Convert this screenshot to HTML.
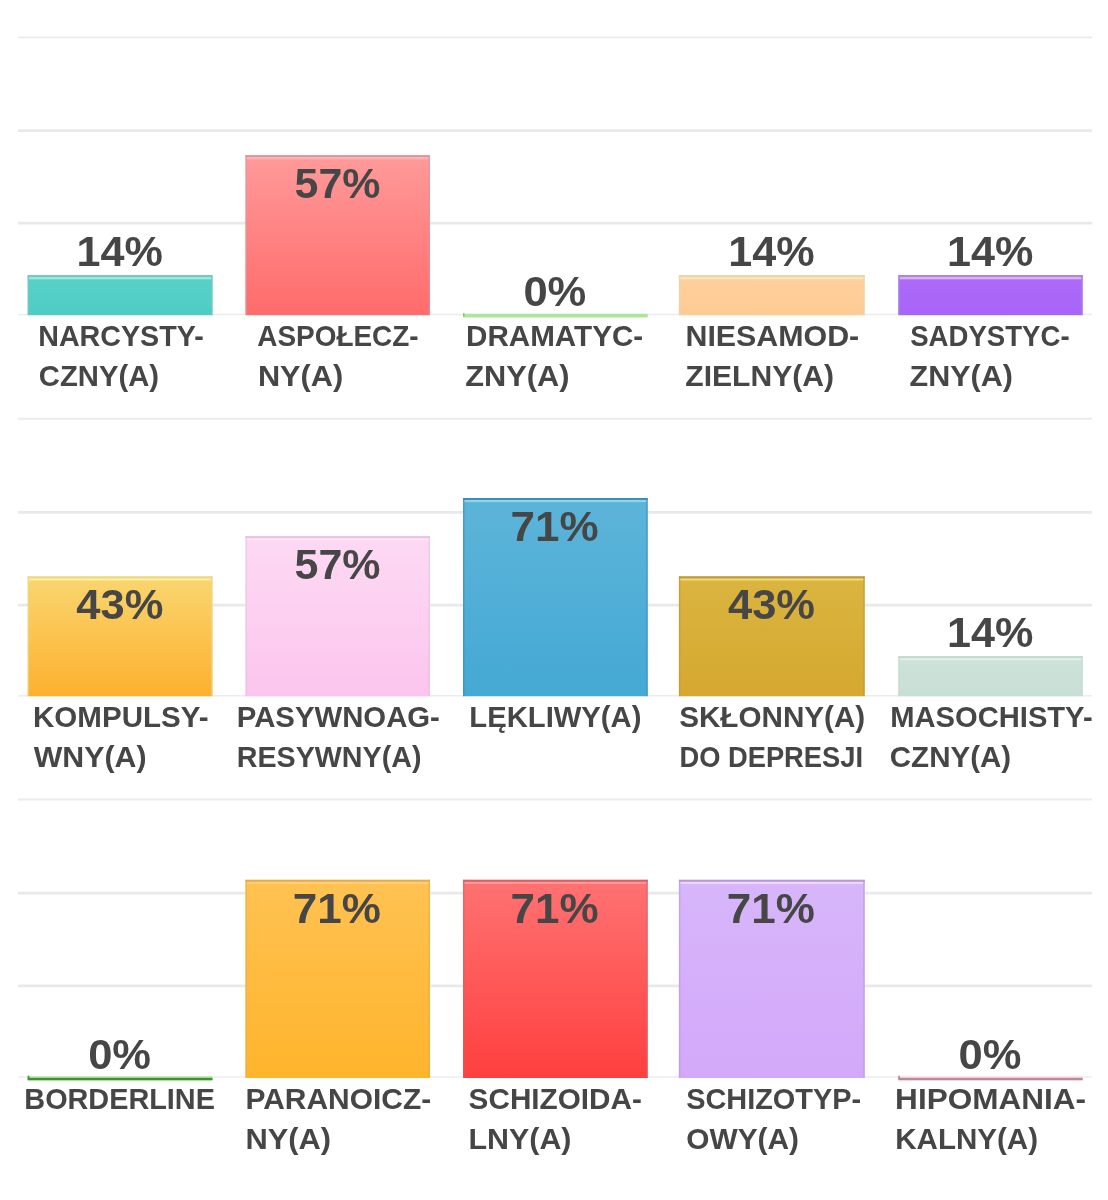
<!DOCTYPE html>
<html lang="pl">
<head>
<meta charset="utf-8">
<title>Wykres osobowości</title>
<style>
html,body{margin:0;padding:0;background:#fff;}
body{width:1108px;height:1200px;overflow:hidden;}
svg{display:block;filter:blur(0.5px);}
text{font-family:"Liberation Sans","DejaVu Sans",sans-serif;font-weight:bold;fill:#464646;}
.pct{font-size:42.4px;}
.lbl{font-size:29.4px;}
</style>
</head>
<body>
<svg width="1108" height="1200" viewBox="0 0 1108 1200">
<defs>
<linearGradient id="g0" x1="0" y1="0" x2="0" y2="1"><stop offset="0" stop-color="#5ad1c9"/><stop offset="1" stop-color="#4ecdc4"/></linearGradient>
<linearGradient id="g1" x1="0" y1="0" x2="0" y2="1"><stop offset="0" stop-color="#ff9a9a"/><stop offset="1" stop-color="#ff6b6b"/></linearGradient>
<linearGradient id="g3" x1="0" y1="0" x2="0" y2="1"><stop offset="0" stop-color="#ffd09d"/><stop offset="1" stop-color="#ffcb94"/></linearGradient>
<linearGradient id="g4" x1="0" y1="0" x2="0" y2="1"><stop offset="0" stop-color="#ad6bf8"/><stop offset="1" stop-color="#a864f7"/></linearGradient>
<linearGradient id="g5" x1="0" y1="0" x2="0" y2="1"><stop offset="0" stop-color="#f9d66f"/><stop offset="1" stop-color="#fdb02f"/></linearGradient>
<linearGradient id="g6" x1="0" y1="0" x2="0" y2="1"><stop offset="0" stop-color="#fdd9f4"/><stop offset="1" stop-color="#fcc5ed"/></linearGradient>
<linearGradient id="g7" x1="0" y1="0" x2="0" y2="1"><stop offset="0" stop-color="#5db4d9"/><stop offset="1" stop-color="#44a9d4"/></linearGradient>
<linearGradient id="g8" x1="0" y1="0" x2="0" y2="1"><stop offset="0" stop-color="#dab540"/><stop offset="1" stop-color="#d5a830"/></linearGradient>
<linearGradient id="g9" x1="0" y1="0" x2="0" y2="1"><stop offset="0" stop-color="#cde3da"/><stop offset="1" stop-color="#c8dfd6"/></linearGradient>
<linearGradient id="g11" x1="0" y1="0" x2="0" y2="1"><stop offset="0" stop-color="#ffc252"/><stop offset="1" stop-color="#ffb42c"/></linearGradient>
<linearGradient id="g12" x1="0" y1="0" x2="0" y2="1"><stop offset="0" stop-color="#ff7272"/><stop offset="1" stop-color="#ff3f3f"/></linearGradient>
<linearGradient id="g13" x1="0" y1="0" x2="0" y2="1"><stop offset="0" stop-color="#d7b6fa"/><stop offset="1" stop-color="#d3a8fa"/></linearGradient>
</defs>
<g fill="none">
<line x1="18" x2="1092" y1="37.4" y2="37.4" stroke="#ebebeb" stroke-width="1.9"/>
<line x1="18" x2="1092" y1="130.7" y2="130.7" stroke="#e9e9e9" stroke-width="2.8"/>
<line x1="18" x2="1092" y1="223.1" y2="223.1" stroke="#e9e9e9" stroke-width="2.8"/>
<line x1="18" x2="1092" y1="314.4" y2="314.4" stroke="#ececec" stroke-width="1.5"/>
<line x1="18" x2="1092" y1="418.7" y2="418.7" stroke="#ebebeb" stroke-width="1.9"/>
<line x1="18" x2="1092" y1="512.4" y2="512.4" stroke="#e9e9e9" stroke-width="2.8"/>
<line x1="18" x2="1092" y1="605.2" y2="605.2" stroke="#e9e9e9" stroke-width="2.8"/>
<line x1="18" x2="1092" y1="695.8" y2="695.8" stroke="#ececec" stroke-width="1.5"/>
<line x1="18" x2="1092" y1="799.5" y2="799.5" stroke="#ebebeb" stroke-width="1.9"/>
<line x1="18" x2="1092" y1="893.1" y2="893.1" stroke="#e9e9e9" stroke-width="2.8"/>
<line x1="18" x2="1092" y1="985.8" y2="985.8" stroke="#e9e9e9" stroke-width="2.8"/>
<line x1="18" x2="1092" y1="1077.0" y2="1077.0" stroke="#ececec" stroke-width="1.5"/>
</g>
<rect x="27.7" y="275.2" width="184.8" height="40.0" fill="url(#g0)"/>
<rect x="28.9" y="277.0" width="182.4" height="2.3" fill="#96eee4"/>
<rect x="27.7" y="275.2" width="1.5" height="40.0" fill="#7cc4b8" fill-opacity="0.6"/>
<rect x="211.0" y="275.2" width="1.5" height="40.0" fill="#7cc4b8" fill-opacity="0.6"/>
<rect x="27.7" y="275.2" width="184.8" height="1.9" fill="#7cc4b8"/>
<text class="pct" x="76.63" y="266.3" textLength="86.36" lengthAdjust="spacingAndGlyphs">14%</text>
<text class="lbl" x="38.20" y="346.1" textLength="165.64" lengthAdjust="spacingAndGlyphs">NARCYSTY-</text>
<text class="lbl" x="38.80" y="386.3" textLength="120.26" lengthAdjust="spacingAndGlyphs">CZNY(A)</text>
<rect x="245.5" y="155.2" width="184.5" height="160.0" fill="url(#g1)"/>
<rect x="246.7" y="157.0" width="182.1" height="2.3" fill="#ffb5b8"/>
<rect x="245.5" y="155.2" width="1.5" height="160.0" fill="#e0959b" fill-opacity="0.6"/>
<rect x="428.5" y="155.2" width="1.5" height="160.0" fill="#e0959b" fill-opacity="0.6"/>
<rect x="245.5" y="155.2" width="184.5" height="1.9" fill="#e0959b"/>
<text class="pct" x="294.58" y="197.9" textLength="85.85" lengthAdjust="spacingAndGlyphs">57%</text>
<text class="lbl" x="257.30" y="346.1" textLength="161.32" lengthAdjust="spacingAndGlyphs">ASPOŁECZ-</text>
<text class="lbl" x="257.94" y="386.3" textLength="85.34" lengthAdjust="spacingAndGlyphs">NY(A)</text>
<rect x="463.0" y="313.8" width="184.7" height="3.7" fill="#abe69a"/>
<rect x="463.0" y="313.2" width="1.5" height="3.2" fill="#7fc46c"/>
<text class="pct" x="523.43" y="306.3" textLength="62.87" lengthAdjust="spacingAndGlyphs">0%</text>
<text class="lbl" x="466.04" y="346.1" textLength="177.13" lengthAdjust="spacingAndGlyphs">DRAMATYC-</text>
<text class="lbl" x="465.33" y="386.3" textLength="104.20" lengthAdjust="spacingAndGlyphs">ZNY(A)</text>
<rect x="678.9" y="275.2" width="185.8" height="40.0" fill="url(#g3)"/>
<rect x="680.1" y="277.0" width="183.4" height="2.3" fill="#ffe4bc"/>
<rect x="678.9" y="275.2" width="1.5" height="40.0" fill="#e8d5b0" fill-opacity="0.6"/>
<rect x="863.2" y="275.2" width="1.5" height="40.0" fill="#e8d5b0" fill-opacity="0.6"/>
<rect x="678.9" y="275.2" width="185.8" height="1.9" fill="#e8d5b0"/>
<text class="pct" x="728.33" y="266.3" textLength="86.36" lengthAdjust="spacingAndGlyphs">14%</text>
<text class="lbl" x="685.47" y="346.1" textLength="173.75" lengthAdjust="spacingAndGlyphs">NIESAMOD-</text>
<text class="lbl" x="685.35" y="386.3" textLength="148.65" lengthAdjust="spacingAndGlyphs">ZIELNY(A)</text>
<rect x="898.3" y="275.2" width="184.4" height="40.0" fill="url(#g4)"/>
<rect x="899.5" y="277.0" width="182.0" height="2.3" fill="#e3b0ff"/>
<rect x="898.3" y="275.2" width="1.5" height="40.0" fill="#a98ad4" fill-opacity="0.6"/>
<rect x="1081.2" y="275.2" width="1.5" height="40.0" fill="#a98ad4" fill-opacity="0.6"/>
<rect x="898.3" y="275.2" width="184.4" height="1.9" fill="#a98ad4"/>
<text class="pct" x="947.03" y="266.3" textLength="86.36" lengthAdjust="spacingAndGlyphs">14%</text>
<text class="lbl" x="910.21" y="346.1" textLength="159.39" lengthAdjust="spacingAndGlyphs">SADYSTYC-</text>
<text class="lbl" x="909.59" y="386.3" textLength="103.43" lengthAdjust="spacingAndGlyphs">ZNY(A)</text>
<rect x="27.7" y="576.4" width="184.8" height="119.8" fill="url(#g5)"/>
<rect x="28.9" y="578.2" width="182.4" height="2.3" fill="#fff0a0"/>
<rect x="27.7" y="576.4" width="1.5" height="119.8" fill="#e8d98a" fill-opacity="0.6"/>
<rect x="211.0" y="576.4" width="1.5" height="119.8" fill="#e8d98a" fill-opacity="0.6"/>
<rect x="27.7" y="576.4" width="184.8" height="1.9" fill="#e8d98a"/>
<text class="pct" x="76.24" y="619.1" textLength="87.11" lengthAdjust="spacingAndGlyphs">43%</text>
<text class="lbl" x="33.04" y="727.1" textLength="175.63" lengthAdjust="spacingAndGlyphs">KOMPULSY-</text>
<text class="lbl" x="33.72" y="767.3" textLength="112.79" lengthAdjust="spacingAndGlyphs">WNY(A)</text>
<rect x="245.5" y="536.2" width="184.5" height="160.0" fill="url(#g6)"/>
<rect x="246.7" y="538.0" width="182.1" height="2.3" fill="#fee6f8"/>
<rect x="245.5" y="536.2" width="1.5" height="160.0" fill="#e8c0e0" fill-opacity="0.6"/>
<rect x="428.5" y="536.2" width="1.5" height="160.0" fill="#e8c0e0" fill-opacity="0.6"/>
<rect x="245.5" y="536.2" width="184.5" height="1.9" fill="#e8c0e0"/>
<text class="pct" x="294.58" y="578.9" textLength="85.85" lengthAdjust="spacingAndGlyphs">57%</text>
<text class="lbl" x="236.81" y="727.1" textLength="203.10" lengthAdjust="spacingAndGlyphs">PASYWNOAG-</text>
<text class="lbl" x="236.83" y="767.3" textLength="184.60" lengthAdjust="spacingAndGlyphs">RESYWNY(A)</text>
<rect x="463.0" y="498.0" width="184.7" height="198.2" fill="url(#g7)"/>
<rect x="464.2" y="499.8" width="182.3" height="2.3" fill="#8dd4ef"/>
<rect x="463.0" y="498.0" width="1.5" height="198.2" fill="#3e8cb4" fill-opacity="0.6"/>
<rect x="646.2" y="498.0" width="1.5" height="198.2" fill="#3e8cb4" fill-opacity="0.6"/>
<rect x="463.0" y="498.0" width="184.7" height="1.9" fill="#3e8cb4"/>
<text class="pct" x="510.43" y="540.7" textLength="88.10" lengthAdjust="spacingAndGlyphs">71%</text>
<text class="lbl" x="469.29" y="727.1" textLength="172.17" lengthAdjust="spacingAndGlyphs">LĘKLIWY(A)</text>
<rect x="678.9" y="576.4" width="185.8" height="119.8" fill="url(#g8)"/>
<rect x="680.1" y="578.2" width="183.4" height="2.3" fill="#f5d870"/>
<rect x="678.9" y="576.4" width="1.5" height="119.8" fill="#b89a40" fill-opacity="0.6"/>
<rect x="863.2" y="576.4" width="1.5" height="119.8" fill="#b89a40" fill-opacity="0.6"/>
<rect x="678.9" y="576.4" width="185.8" height="1.9" fill="#b89a40"/>
<text class="pct" x="727.94" y="619.1" textLength="87.11" lengthAdjust="spacingAndGlyphs">43%</text>
<text class="lbl" x="679.15" y="727.1" textLength="186.08" lengthAdjust="spacingAndGlyphs">SKŁONNY(A)</text>
<text class="lbl" x="679.42" y="767.3" textLength="183.66" lengthAdjust="spacingAndGlyphs">DO DEPRESJI</text>
<rect x="898.3" y="656.2" width="184.4" height="40.0" fill="url(#g9)"/>
<rect x="899.5" y="658.0" width="182.0" height="2.3" fill="#def0e8"/>
<rect x="898.3" y="656.2" width="1.5" height="40.0" fill="#c4d8d0" fill-opacity="0.6"/>
<rect x="1081.2" y="656.2" width="1.5" height="40.0" fill="#c4d8d0" fill-opacity="0.6"/>
<rect x="898.3" y="656.2" width="184.4" height="1.9" fill="#c4d8d0"/>
<text class="pct" x="947.03" y="647.3" textLength="86.36" lengthAdjust="spacingAndGlyphs">14%</text>
<text class="lbl" x="890.32" y="727.1" textLength="202.34" lengthAdjust="spacingAndGlyphs">MASOCHISTY-</text>
<text class="lbl" x="889.79" y="767.3" textLength="121.43" lengthAdjust="spacingAndGlyphs">CZNY(A)</text>
<rect x="27.7" y="1076.2" width="184.8" height="5.0" fill="#b4eeaa"/>
<rect x="27.7" y="1077.8" width="184.8" height="2.3" fill="#4a8a3c"/>
<rect x="27.7" y="1075.7" width="1.6" height="3.6" fill="#4a8a3c"/>
<text class="pct" x="88.18" y="1069.1" textLength="62.87" lengthAdjust="spacingAndGlyphs">0%</text>
<text class="lbl" x="24.32" y="1108.9" textLength="190.56" lengthAdjust="spacingAndGlyphs">BORDERLINE</text>
<rect x="245.5" y="879.8" width="184.5" height="198.2" fill="url(#g11)"/>
<rect x="246.7" y="881.6" width="182.1" height="2.3" fill="#ffd27a"/>
<rect x="245.5" y="879.8" width="1.5" height="198.2" fill="#e8a94a" fill-opacity="0.6"/>
<rect x="428.5" y="879.8" width="1.5" height="198.2" fill="#e8a94a" fill-opacity="0.6"/>
<rect x="245.5" y="879.8" width="184.5" height="1.9" fill="#e8a94a"/>
<text class="pct" x="292.83" y="922.5" textLength="88.10" lengthAdjust="spacingAndGlyphs">71%</text>
<text class="lbl" x="245.52" y="1108.9" textLength="185.66" lengthAdjust="spacingAndGlyphs">PARANOICZ-</text>
<text class="lbl" x="245.44" y="1149.1" textLength="85.59" lengthAdjust="spacingAndGlyphs">NY(A)</text>
<rect x="463.0" y="879.8" width="184.7" height="198.2" fill="url(#g12)"/>
<rect x="464.2" y="881.6" width="182.3" height="2.3" fill="#ff9a98"/>
<rect x="463.0" y="879.8" width="1.5" height="198.2" fill="#d96068" fill-opacity="0.6"/>
<rect x="646.2" y="879.8" width="1.5" height="198.2" fill="#d96068" fill-opacity="0.6"/>
<rect x="463.0" y="879.8" width="184.7" height="1.9" fill="#d96068"/>
<text class="pct" x="510.43" y="922.5" textLength="88.10" lengthAdjust="spacingAndGlyphs">71%</text>
<text class="lbl" x="468.64" y="1108.9" textLength="173.30" lengthAdjust="spacingAndGlyphs">SCHIZOIDA-</text>
<text class="lbl" x="468.47" y="1149.1" textLength="103.04" lengthAdjust="spacingAndGlyphs">LNY(A)</text>
<rect x="678.9" y="879.8" width="185.8" height="198.2" fill="url(#g13)"/>
<rect x="680.1" y="881.6" width="183.4" height="2.3" fill="#f0d8ff"/>
<rect x="678.9" y="879.8" width="1.5" height="198.2" fill="#b898dc" fill-opacity="0.6"/>
<rect x="863.2" y="879.8" width="1.5" height="198.2" fill="#b898dc" fill-opacity="0.6"/>
<rect x="678.9" y="879.8" width="185.8" height="1.9" fill="#b898dc"/>
<text class="pct" x="726.88" y="922.5" textLength="88.10" lengthAdjust="spacingAndGlyphs">71%</text>
<text class="lbl" x="686.17" y="1108.9" textLength="174.99" lengthAdjust="spacingAndGlyphs">SCHIZOTYP-</text>
<text class="lbl" x="686.28" y="1149.1" textLength="112.71" lengthAdjust="spacingAndGlyphs">OWY(A)</text>
<rect x="898.3" y="1076.2" width="184.4" height="5.0" fill="#fae0e8"/>
<rect x="898.3" y="1077.8" width="184.4" height="2.3" fill="#b78a98"/>
<rect x="898.3" y="1075.7" width="1.6" height="3.6" fill="#b78a98"/>
<text class="pct" x="958.58" y="1069.1" textLength="62.87" lengthAdjust="spacingAndGlyphs">0%</text>
<text class="lbl" x="895.14" y="1108.9" textLength="190.87" lengthAdjust="spacingAndGlyphs">HIPOMANIA-</text>
<text class="lbl" x="895.27" y="1149.1" textLength="142.70" lengthAdjust="spacingAndGlyphs">KALNY(A)</text>
</svg>
</body>
</html>
